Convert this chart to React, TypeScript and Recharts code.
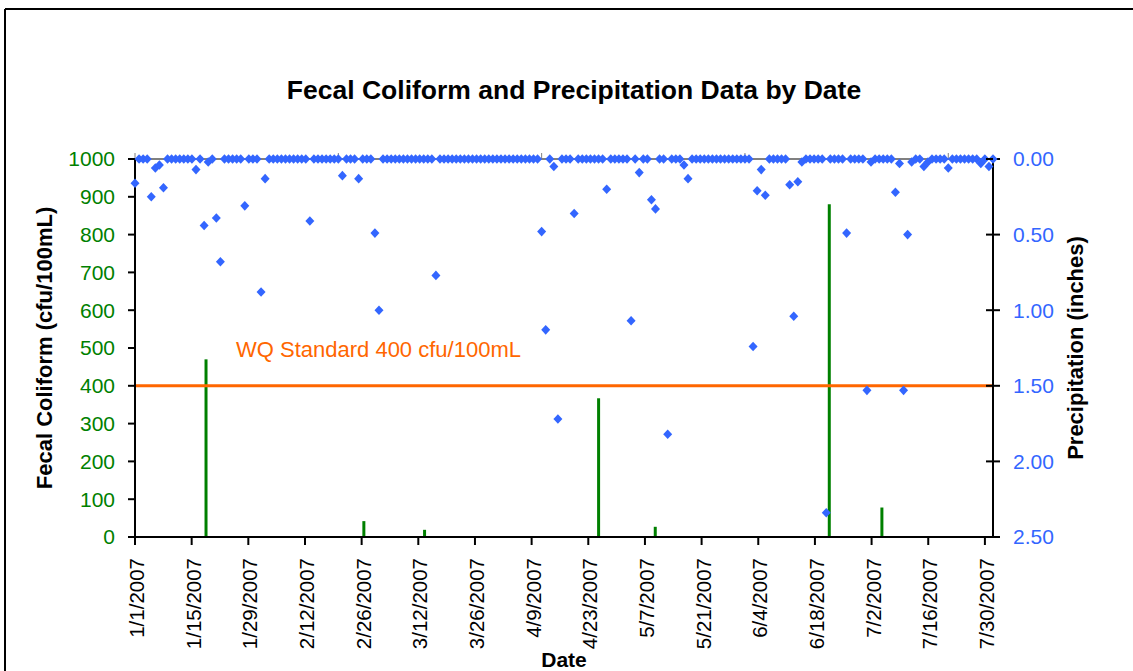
import { ComposedChart, Bar, Scatter, XAxis, YAxis, ReferenceLine, Label } from 'recharts'

const FONT = '"Liberation Sans", Arial, sans-serif'

// fecal coliform samples (cfu/100mL)
const sampleDates = ['1/18/2007', '2/26/2007', '3/13/2007', '4/25/2007', '5/9/2007', '6/21/2007', '7/4/2007']
const fecalValues = [470, 42, 19, 367, 27, 880, 78]

// daily precipitation (inches), 1/1/2007 .. 7/31/2007, one row per week
const precipStart = '1/1/2007'
const precipValues = [
    0.16, 0, 0, 0, 0.25, 0.06, 0.04,
    0.19, 0, 0, 0, 0, 0, 0,
    0, 0.07, 0, 0.44, 0.02, 0, 0.39,
    0.68, 0, 0, 0, 0, 0, 0.31,
    0, 0, 0, 0.88, 0.13, 0, 0,
    0, 0, 0, 0, 0, 0, 0,
    0, 0.41, 0, 0, 0, 0, 0,
    0, 0, 0.11, 0, 0, 0, 0.13,
    0, 0, 0, 0.49, 1.0, 0, 0,
    0, 0, 0, 0, 0, 0, 0,
    0, 0, 0, 0, 0.77, 0, 0,
    0, 0, 0, 0, 0, 0, 0,
    0, 0, 0, 0, 0, 0, 0,
    0, 0, 0, 0, 0, 0, 0,
    0, 0, 0.48, 1.13, 0, 0.05, 1.72,
    0, 0, 0, 0.36, 0, 0, 0,
    0, 0, 0, 0, 0.2, 0, 0,
    0, 0, 0, 1.07, 0, 0.09, 0,
    0, 0.27, 0.33, 0, 0, 1.82, 0,
    0, 0, 0.04, 0.13, 0, 0, 0,
    0, 0, 0, 0, 0, 0, 0,
    0, 0, 0, 0, 0, 1.24, 0.21,
    0.07, 0.24, 0, 0, 0, 0, 0,
    0.17, 1.04, 0.15, 0.02, 0, 0, 0,
    0, 0, 2.34, 0, 0, 0, 0,
    0.49, 0, 0, 0, 0, 1.53, 0.02,
    0, 0, 0, 0, 0, 0.22, 0.03,
    1.53, 0.5, 0.02, 0, 0, 0.05, 0.02,
    0, 0, 0, 0, 0.06, 0, 0,
    0, 0, 0, 0, 0, 0.03, 0,
    0.05, 0,
]

const dateTicks = ['1/1/2007', '1/15/2007', '1/29/2007', '2/12/2007', '2/26/2007', '3/12/2007', '3/26/2007', '4/9/2007',
    '4/23/2007', '5/7/2007', '5/21/2007', '6/4/2007', '6/18/2007', '7/2/2007', '7/16/2007', '7/30/2007']
const fecalTicks = [0, 100, 200, 300, 400, 500, 600, 700, 800, 900, 1000]
const precipTicks = [0, 0.5, 1, 1.5, 2, 2.5]
const standard = 400

const dayOf = (s: string) => {
    const [m, d, y] = s.split('/').map(Number)
    return (Date.UTC(y, m - 1, d) - Date.UTC(2007, 0, 1)) / 86400000
}
const labelOf = (day: number) => {
    const dt = new Date(Date.UTC(2007, 0, 1) + day * 86400000)
    return `${dt.getUTCMonth() + 1}/${dt.getUTCDate()}/${dt.getUTCFullYear()}`
}

// columns sit in the middle of their day on the date axis
const fecalData = sampleDates.map((d, i) => ({ x: dayOf(d) + 0.5, fecal: fecalValues[i] }))
const precipData = precipValues.map((v, i) => ({ day: dayOf(precipStart) + i, precip: v }))

const DateTick = (props: any) => {
    const { x, y, payload } = props
    const px = x + 2
    return (
        <text x={px} y={y} transform={`rotate(-90, ${px}, ${y})`} textAnchor="end" dy="0.35em"
            fontSize={20.5} fontFamily={FONT} fill="#000">
            {labelOf(payload.value)}
        </text>
    )
}

const PrecipTick = (props: any) => {
    const { x, y, payload } = props
    return (
        <g>
            <line x1={x - 27} x2={x - 20} y1={y} y2={y} stroke="#000" strokeWidth={2} />
            <text x={x} y={y} dy="0.35em" fontSize={21} fontFamily={FONT} fill="#3366FF">
                {Number(payload.value).toFixed(2)}
            </text>
        </g>
    )
}

const Diamond = (props: any) => {
    const { cx, cy } = props
    if (cx == null || cy == null) return null
    return <polygon points={`${cx},${cy - 4.8} ${cx + 4.5},${cy} ${cx},${cy + 4.8} ${cx - 4.5},${cy}`} fill="#3366FF" />
}

const WQLabel = (props: any) => {
    const { viewBox } = props
    return (
        <text x={viewBox.x + 101} y={viewBox.y - 29} fontSize={22} fontFamily={FONT} fill="#FF6600">
            WQ Standard 400 cfu/100mL
        </text>
    )
}

const App = () => {
    return (
        <div style={{ position: 'absolute', left: 0, top: 0, width: 1133, height: 671, background: '#fff', fontFamily: FONT }}>
            <ComposedChart width={1133} height={671} data={fecalData} margin={{ top: 149, right: 0, bottom: 0, left: 0 }}>
                <XAxis xAxisId="bottom" dataKey="x" type="number" domain={[0, 212]} ticks={dateTicks.map(dayOf)}
                    interval={0} height={134} tickSize={8} tickMargin={13} tick={<DateTick />}
                    axisLine={{ stroke: '#000', strokeWidth: 2 }} tickLine={{ stroke: '#000', strokeWidth: 2 }}>
                    <Label value="Date" position="insideBottom" offset={4}
                        style={{ fontSize: 21, fontWeight: 'bold', fill: '#000', fontFamily: FONT }} />
                </XAxis>
                <XAxis xAxisId="top" dataKey="day" type="number" orientation="top" domain={[0, 211]}
                    ticks={[0, 50, 100, 150, 200]} height={10} tickSize={6} tickFormatter={() => ''}
                    axisLine={{ stroke: '#808080', strokeWidth: 2 }} tickLine={{ stroke: '#808080', strokeWidth: 1 }} />
                <YAxis yAxisId="left" domain={[0, 1000]} ticks={fecalTicks} interval={0} width={135}
                    tickSize={7} tickMargin={13} tick={{ fill: '#008000', fontSize: 21, fontFamily: FONT }}
                    axisLine={{ stroke: '#000', strokeWidth: 2 }} tickLine={{ stroke: '#000', strokeWidth: 2 }}>
                    <Label value="Fecal Coliform (cfu/100mL)" angle={-90} position="center" dx={-23}
                        style={{ fontSize: 22, fontWeight: 'bold', fill: '#000', fontFamily: FONT, textAnchor: 'middle' }} />
                </YAxis>
                <YAxis yAxisId="right" orientation="right" dataKey="precip" domain={[0, 2.5]} reversed
                    ticks={precipTicks} interval={0} width={140} tickSize={7} tickMargin={13} tick={<PrecipTick />}
                    axisLine={{ stroke: '#000', strokeWidth: 2 }} tickLine={{ stroke: '#000', strokeWidth: 2 }}>
                    <Label value="Precipitation (inches)" angle={-90} position="center" dx={12}
                        style={{ fontSize: 22, fontWeight: 'bold', fill: '#000', fontFamily: FONT, textAnchor: 'middle' }} />
                </YAxis>
                <Bar xAxisId="bottom" yAxisId="left" dataKey="fecal" fill="#008000" barSize={3} isAnimationActive={false} />
                <ReferenceLine xAxisId="bottom" yAxisId="left" y={standard} stroke="#FF6600" strokeWidth={3}
                    label={WQLabel} />
                <Scatter xAxisId="top" yAxisId="right" data={precipData} dataKey="precip" shape={Diamond}
                    isAnimationActive={false} />
            </ComposedChart>
            <svg width={1133} height={671} style={{ position: 'absolute', left: 0, top: 0, pointerEvents: 'none' }}>
                <line x1={5} y1={9} x2={1133} y2={9} stroke="#000" strokeWidth={2} />
                <line x1={5} y1={9} x2={5} y2={671} stroke="#000" strokeWidth={2} />
                <text x={574} y={99} textAnchor="middle" fontSize={26.5} fontWeight="bold" fontFamily={FONT} fill="#000">
                    Fecal Coliform and Precipitation Data by Date
                </text>
            </svg>
        </div>
    )
}

export default App
